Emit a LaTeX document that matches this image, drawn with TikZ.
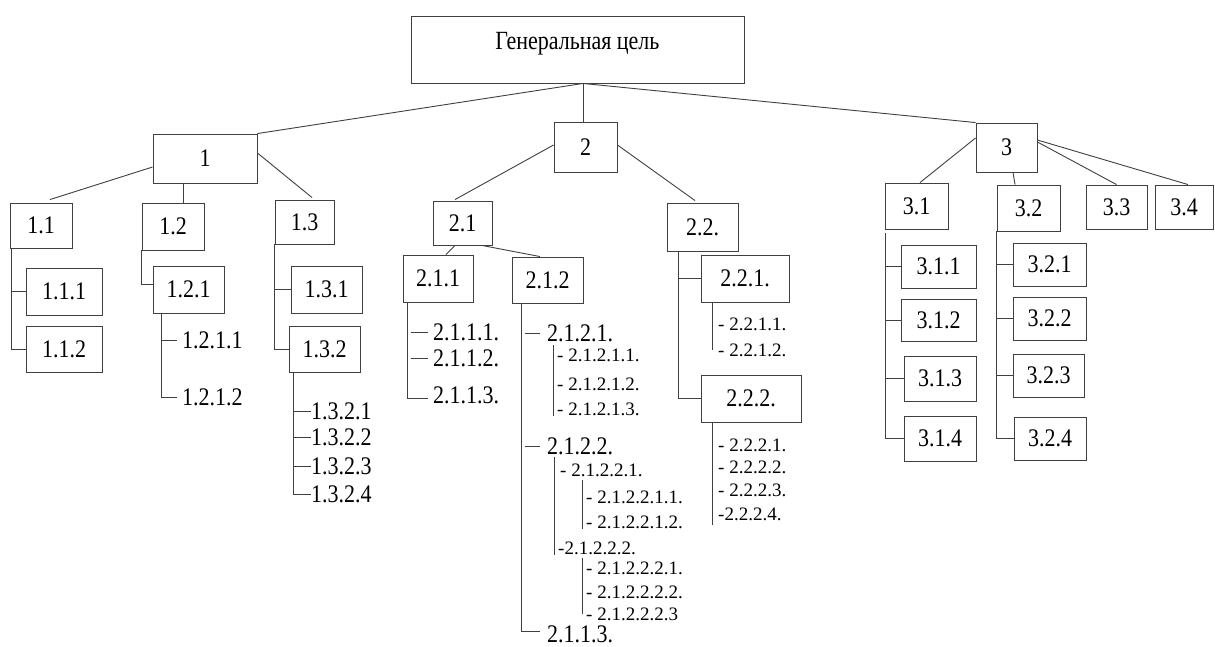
\documentclass[tikz,border=0pt]{standalone}
\usepackage{fontspec}
\usepackage{graphicx}
\setmainfont{Liberation Serif}
\usetikzlibrary{calc}
\newcommand{\stt}[1]{\scalebox{1}[1.15]{#1}}
\tikzset{
  box/.style={draw=black!75, line width=0.9pt, inner sep=0pt, fill=white, font=\fontsize{22}{26}\selectfont},
  ln/.style={draw=black!75, line width=0.9pt},
  lbl/.style={inner sep=0pt, anchor=west, font=\fontsize{22}{26}\selectfont},
  sl/.style={inner sep=0pt, anchor=west, font=\fontsize{19}{22}\selectfont},
}
\begin{document}
\begin{tikzpicture}[x=1pt,y=-1pt]
\useasboundingbox[fill=white] (0,0) rectangle (1215,646);

% ---------- boxes ----------
\node[box, minimum width=333pt, minimum height=67pt] (top) at (577.5,49.5)
  {\raisebox{6pt}[\height][\depth]{\fontsize{25}{30}\selectfont\scalebox{0.88}[1.05]{Генеральная цель}}};
\node[box, minimum width=104pt, minimum height=49pt] (b1) at (205,158.5) {\stt{1}};
\node[box, minimum width=63pt, minimum height=50pt] (b2) at (585.5,147) {\stt{2}};
\node[box, minimum width=61pt, minimum height=49pt] (b3) at (1006.5,147.5) {\stt{3}};

\node[box, minimum width=62pt, minimum height=45pt] (b11) at (41,225.5) {\stt{1.1}};
\node[box, minimum width=62pt, minimum height=47pt] (b12) at (173,226.5) {\stt{1.2}};
\node[box, minimum width=59pt, minimum height=44pt] (b13) at (304.5,222) {\stt{1.3}};
\node[box, minimum width=76pt, minimum height=47pt] (b111) at (64,291.5) {\stt{1.1.1}};
\node[box, minimum width=76pt, minimum height=46pt] (b112) at (64,349) {\stt{1.1.2}};
\node[box, minimum width=71pt, minimum height=47pt] (b121) at (188.5,289.5) {\stt{1.2.1}};
\node[box, minimum width=71pt, minimum height=47pt] (b131) at (326.5,289.5) {\stt{1.3.1}};
\node[box, minimum width=71pt, minimum height=46pt] (b132) at (324.5,349) {\stt{1.3.2}};

\node[box, minimum width=59pt, minimum height=44pt] (b21) at (462.5,223) {\stt{2.1}};
\node[box, minimum width=71pt, minimum height=48pt] (b22) at (702.5,227) {\stt{2.2.}};
\node[box, minimum width=70pt, minimum height=47pt] (b211) at (438,278.5) {\stt{2.1.1}};
\node[box, minimum width=71pt, minimum height=46pt] (b212) at (547.5,280) {\stt{2.1.2}};
\node[box, minimum width=88pt, minimum height=47pt] (b221) at (745,278.5) {\stt{2.2.1.}};
\node[box, minimum width=100pt, minimum height=47pt] (b222) at (751,398.5) {\stt{2.2.2.}};

\node[box, minimum width=63pt, minimum height=46pt] (b31) at (916.5,206) {\stt{3.1}};
\node[box, minimum width=63pt, minimum height=46pt] (b32) at (1028.5,208) {\stt{3.2}};
\node[box, minimum width=61pt, minimum height=44pt] (b33) at (1116.5,207) {\stt{3.3}};
\node[box, minimum width=58pt, minimum height=44pt] (b34) at (1184,207) {\stt{3.4}};
\node[box, minimum width=75pt, minimum height=43pt] (b311) at (938.5,266.5) {\stt{3.1.1}};
\node[box, minimum width=75pt, minimum height=42pt] (b312) at (938.5,320) {\stt{3.1.2}};
\node[box, minimum width=72pt, minimum height=45pt] (b313) at (940,378.5) {\stt{3.1.3}};
\node[box, minimum width=72pt, minimum height=45pt] (b314) at (940,438.5) {\stt{3.1.4}};
\node[box, minimum width=73pt, minimum height=43pt] (b321) at (1049.5,264.5) {\stt{3.2.1}};
\node[box, minimum width=73pt, minimum height=43pt] (b322) at (1049.5,318.5) {\stt{3.2.2}};
\node[box, minimum width=71pt, minimum height=43pt] (b323) at (1048.5,375.5) {\stt{3.2.3}};
\node[box, minimum width=72pt, minimum height=43pt] (b324) at (1050,438.5) {\stt{3.2.4}};

% ---------- text items ----------
\node[lbl] (t1211) at (182,340) {\stt{1.2.1.1}};
\node[lbl] (t1212) at (182,397) {\stt{1.2.1.2}};
\node[lbl] (t1321) at (311,411) {\stt{1.3.2.1}};
\node[lbl] (t1322) at (311,437) {\stt{1.3.2.2}};
\node[lbl] (t1323) at (311,466) {\stt{1.3.2.3}};
\node[lbl] (t1324) at (311,494) {\stt{1.3.2.4}};

\node[lbl] (t2111) at (433,332) {\stt{2.1.1.1.}};
\node[lbl] (t2112) at (433,358) {\stt{2.1.1.2.}};
\node[lbl] (t2113) at (433,395) {\stt{2.1.1.3.}};

\node[lbl] (t2121) at (547,333) {\stt{2.1.2.1.}};
\node[sl] (s21211) at (557,355) {- 2.1.2.1.1.};
\node[sl] (s21212) at (557,384) {- 2.1.2.1.2.};
\node[sl] (s21213) at (557,409) {- 2.1.2.1.3.};
\node[lbl] (t2122) at (547,446) {\stt{2.1.2.2.}};
\node[sl] (s21221) at (560,470) {- 2.1.2.2.1.};
\node[sl] (s212211) at (586,497) {- 2.1.2.2.1.1.};
\node[sl] (s212212) at (586,522) {- 2.1.2.2.1.2.};
\node[sl] (s21222) at (558,548) {-2.1.2.2.2.};
\node[sl] (s212221) at (586,568) {- 2.1.2.2.2.1.};
\node[sl] (s212222) at (586,592) {- 2.1.2.2.2.2.};
\node[sl] (s212223) at (586,614) {- 2.1.2.2.2.3};
\node[lbl] (t2113b) at (547,634) {\stt{2.1.1.3.}};

\node[sl] (s2211) at (718,324) {- 2.2.1.1.};
\node[sl] (s2212) at (718,350) {- 2.2.1.2.};
\node[sl] (s2221) at (718,445) {- 2.2.2.1.};
\node[sl] (s2222) at (718,467) {- 2.2.2.2.};
\node[sl] (s2223) at (718,490) {- 2.2.2.3.};
\node[sl] (s2224) at (718,514) {-2.2.2.4.};

% ---------- connectors: top ----------
\coordinate (hub) at ($(top.south)+(5.5,0)$);
\draw[ln] (hub) -- (b1.north east);
\draw[ln] (hub) -- (hub |- b2.north);
\draw[ln] (hub) -- (b3.north west);

% ---------- branch 1 ----------
\draw[ln] ($(b1.west)+(0,8.5)$) -- ($(b11.north)+(9,-3)$);
\coordinate (c12) at ($(b12.north)+(10.5,0)$);
\draw[ln] (c12) -- (c12 |- b1.south);
\draw[ln] ($(b1.east)+(0,-5.5)$) -- ($(b13.north)+(7.5,-2)$);

\coordinate (v11) at ($(b11.south west)+(2,0)$);
\draw[ln] (v11) |- (b112.west);
\draw[ln] (v11 |- b111.west) -- (b111.west);

\draw[ln] (b12.south west) |- ($(b121.west)+(0,-5.5)$);
\coordinate (v121) at ($(b121.south west)+(9,0)$);
\draw[ln] (v121) |- ($(t1212.west)+(-5,0)$);
\draw[ln] (v121 |- t1211.west) -- ($(t1211.west)+(-5,0)$);

\draw[ln] (b13.south west) |- (b132.west);
\draw[ln] (b13.south west |- b131.west) -- (b131.west);
\coordinate (v132) at ($(b132.south west)+(5,0)$);
\draw[ln] (v132) |- (t1324.west);
\foreach \n in {1321,1322,1323} \draw[ln] (v132 |- t\n.west) -- (t\n.west);

% ---------- branch 2 ----------
\draw[ln] ($(b2.west)+(0,-2)$) -- ($(b21.north)+(-7.5,-1)$);
\draw[ln] ($(b2.east)+(0,-2)$) -- ($(b22.north)+(-7.5,-2)$);
\draw[ln] ($(b21.south)+(-7.5,0)$) -- ($(b211.north)+(8,0)$);
\draw[ln] ($(b21.south)+(19.5,0)$) -- ($(b212.north)+(-7.5,0)$);

\coordinate (v211) at ($(b211.south west)+(5,0)$);
\draw[ln] (v211) |- ($(t2113.west)+(-5,3)$);
\foreach \n in {2111,2112} \draw[ln] ($(v211 |- t\n.west)+(3,0)$) -- ($(t\n.west)+(-5,0)$);

\coordinate (v212) at ($(b212.south west)+(10,0)$);
\draw[ln] (v212) |- ($(t2113b.west)+(-7,-3)$);
\foreach \n in {2121,2122} \draw[ln] ($(v212 |- t\n.west)+(3,0)$) -- ($(t\n.west)+(-7,0)$);

\coordinate (v2121) at ($(t2121.south west)+(6,3)$);
\draw[ln] (v2121) -- (v2121 |- s21213.south);
\coordinate (v2122) at ($(t2122.south west)+(7,2)$);
\draw[ln] (v2122) -- (v2122 |- s21222.south);
\coordinate (v21221) at ($(s21221.south west)+(22,3)$);
\draw[ln] (v21221) -- (v21221 |- s212212.south);
\coordinate (v21222) at ($(s21222.south west)+(24,3)$);
\draw[ln] (v21222) -- (v21222 |- s212223.west);

\coordinate (v22) at ($(b22.south west)+(12,0)$);
\draw[ln] (v22) |- (b222.west);
\draw[ln] (v22 |- b221.west) -- (b221.west);
\coordinate (v221) at ($(b221.south west)+(12,0)$);
\draw[ln] (v221) -- (v221 |- s2212.west);
\coordinate (v222) at ($(b222.south west)+(12,0)$);
\draw[ln] (v222) -- ($(v222 |- s2224.south)+(0,4)$);

% ---------- branch 3 ----------
\draw[ln] ($(b3.west)+(0,-9.5)$) -- ($(b31.north)+(3.5,0)$);
\draw[ln] ($(b3.south)+(6.5,0)$) -- ($(b32.north)+(-13.5,0)$);
\draw[ln] ($(b3.east)+(0,-5.5)$) -- (b33.north);
\draw[ln] ($(b3.east)+(0,-7.5)$) -- ($(b34.north)+(4,0)$);

\coordinate (v31) at ($(b31.south west)+(1,4)$);
\draw[ln] (v31) |- (b314.west);
\foreach \n in {311,312,313} \draw[ln] (v31 |- b\n.west) -- (b\n.west);
\coordinate (v32) at (b32.south west);
\draw[ln] (v32) |- (b324.west);
\foreach \n in {321,322,323} \draw[ln] (v32 |- b\n.west) -- (b\n.west);
\end{tikzpicture}
\end{document}
